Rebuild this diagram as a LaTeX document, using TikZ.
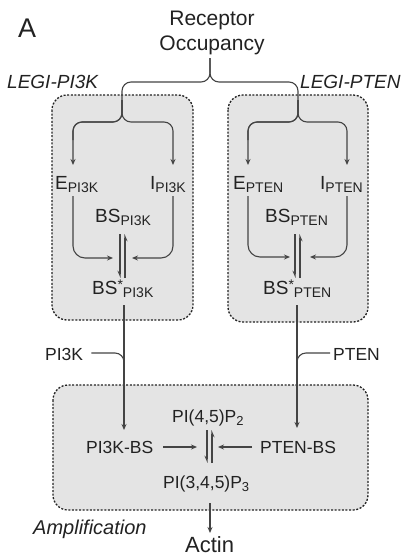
\documentclass[tikz,border=0pt]{standalone}
\usepackage{fontspec}
\setmainfont{Liberation Sans}
\usetikzlibrary{arrows.meta}
\definecolor{ink}{HTML}{222222}
\definecolor{lin}{HTML}{444444}
\definecolor{boxfill}{HTML}{E4E4E4}
\newcommand\sbx[1]{\raisebox{-3.5pt}{\fontsize{14}{14}\selectfont #1}}
\newcommand\sbs[1]{\raisebox{-3pt}{\fontsize{13}{13}\selectfont #1}}
\newcommand\sst{\raisebox{5pt}{\fontsize{14}{14}\selectfont *}}
\tikzset{
  lbl/.style={anchor=base west, inner sep=0pt, text=ink, font=\fontsize{19}{19}\selectfont},
  lbls/.style={anchor=base west, inner sep=0pt, text=ink, font=\fontsize{17.5}{17.5}\selectfont},
  ital/.style={anchor=base west, inner sep=0pt, text=ink, font=\fontsize{19}{19}\selectfont\itshape},
  conn/.style={draw=lin, line width=1.1pt},
  arr/.style={conn, -{Stealth[length=6pt,width=5pt]}},
  hdown/.style={conn, -{Stealth[length=6pt,width=5pt,harpoon,swap]}},
  hup/.style={conn, -{Stealth[length=6pt,width=5pt,harpoon,swap]}},
  legi/.style={draw=ink, line width=1.3pt, dash pattern=on 2pt off 1.6pt, fill=boxfill, rounded corners=15pt}
}
\begin{document}
\begin{tikzpicture}[x=1pt,y=-1pt]
\useasboundingbox[fill=white] (0,0) rectangle (401,558);
% boxes
\path[legi] (52,95) rectangle (193,320);
\path[legi] (228,95) rectangle (368,322);
\path[legi] (53,385) rectangle (368,510);
% titles
\node[anchor=base west, inner sep=0pt, text=ink, font=\fontsize{27}{27}\selectfont] (A) at (18,37) {A};
\node[anchor=base, inner sep=0pt, text=ink, font=\fontsize{21}{21}\selectfont] (rec) at (212,25) {Receptor};
\node[anchor=base, inner sep=0pt, text=ink, font=\fontsize{21}{21}\selectfont] (occ) at (212,50) {Occupancy};
\node[ital] (lp) at (7,88) {LEGI-PI3K};
\node[ital] (lt) at (300,88) {LEGI-PTEN};
% left LEGI
\node[lbl] (ep) at (55,189) {E\sbx{PI3K}};
\node[lbl] (ip) at (150,189) {I\sbx{PI3K}};
\node[lbl] (bp) at (95,222) {BS\sbx{PI3K}};
\node[lbl] (bsp) at (92,294) {BS\sst\sbx{PI3K}};
% right LEGI
\node[lbl] (et) at (233,189) {E\sbx{PTEN}};
\node[lbl] (it) at (320,189) {I\sbx{PTEN}};
\node[lbl] (bt) at (265,222) {BS\sbx{PTEN}};
\node[lbl] (bst) at (263,294) {BS\sst\sbx{PTEN}};
% middle labels
\node[lbls] (pk) at (45,360) {PI3K};
\node[lbls] (pt) at (333,360) {PTEN};
% amplification
\node[lbls] (p2) at (172,422) {PI(4,5)P\sbs{2}};
\node[lbls] (pkbs) at (86,453) {PI3K-BS};
\node[lbls] (ptbs) at (260,453) {PTEN-BS};
\node[lbls] (p3) at (163,488) {PI(3,4,5)P\sbs{3}};
\node[ital, font=\fontsize{20}{20}\selectfont\itshape] (amp) at (33,534) {Amplification};
\node[anchor=base west, inner sep=0pt, text=ink, font=\fontsize{22}{22}\selectfont] (actin) at (185,552) {Actin};
% coordinates
\coordinate (c0) at (210,58);
\coordinate (eIn) at (73,165);
\coordinate (iIn) at (173,165);
\coordinate (etIn) at (248,165);
\coordinate (itIn) at (347,165);
% top brace
\draw[conn, rounded corners=9pt] (c0) -- (210,82) -- (122,82) -- (122,122) -- (73,122) -- (73,140);
\draw[conn, rounded corners=9pt] (c0) -- (210,82) -- (298,82) -- (298,122) -- (248,122) -- (248,140);
\draw[arr, rounded corners=9pt] (122,100) -- (122,122) -- (73,122) -- (eIn);
\draw[arr, rounded corners=9pt] (122,100) -- (122,122) -- (173,122) -- (iIn);
\draw[arr, rounded corners=9pt] (298,100) -- (298,122) -- (248,122) -- (etIn);
\draw[arr, rounded corners=9pt] (298,100) -- (298,122) -- (347,122) -- (itIn);
% left LEGI inner arrows
\draw[arr, rounded corners=12pt] (73,196) -- (73,258) -- (113,258);
\draw[arr, rounded corners=12pt] (173,196) -- (173,258) -- (132,258);
\draw[hdown] (120,234) -- (120,278);
\draw[hup] (125,278) -- (125,234);
% right LEGI inner arrows
\draw[arr, rounded corners=12pt] (248,196) -- (248,257) -- (290,257);
\draw[arr, rounded corners=12pt] (347,196) -- (347,257) -- (310,257);
\draw[hdown] (295,234) -- (295,278);
\draw[hup] (300,278) -- (300,234);
% down to amplification
\draw[arr] (124,305) -- (124,430);
\draw[arr] (297,305) -- (297,428);
\draw[conn, rounded corners=9pt] (pk.east |- 0,353) ++(8,0) -- (124,353) -- (124,372);
\draw[conn, rounded corners=9pt] (pt.west |- 0,353) ++(-3,0) -- (297,353) -- (297,372);
% amplification arrows
\draw[arr] (163,447) -- (197,447);
\draw[arr] (252,447) -- (218,447);
\draw[hdown] (207,430) -- (207,463);
\draw[hup] (212,463) -- (212,430);
\draw[arr] (210,503) -- (210,533);
\end{tikzpicture}
\end{document}
